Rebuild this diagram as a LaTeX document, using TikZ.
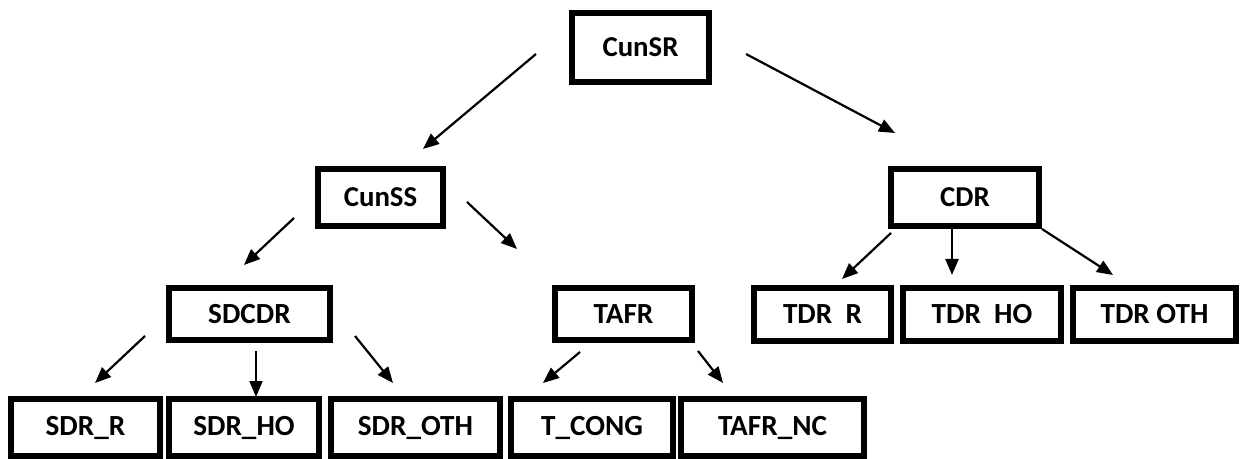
\documentclass[tikz,border=0pt]{standalone}
\usepackage{fontspec}
\setmainfont{Carlito}
\usetikzlibrary{calc,arrows.meta}

\begin{document}
\begin{tikzpicture}[x=0.5pt,y=-0.5pt]

\tikzset{boxnode/.style={draw,line width=3pt,inner sep=0pt,font=\fontsize{14.6}{16}\selectfont\bfseries},
bignode/.style={boxnode,font=\fontsize{14.4}{16}\selectfont\bfseries},
arr/.style={line width=1.1pt,-{Triangle[length=8pt,width=6.5pt]}}}

\useasboundingbox (0,0) rectangle (1240,459);

% Top level
\node[bignode,minimum width=68.5pt,minimum height=34.5pt] (cunsr) at (640.5,47.5) {CunSR};

% Second level
\node[bignode,minimum width=62.5pt,minimum height=28.5pt] (cunss) at (380.5,197.5) {CunSS};
\node[bignode,minimum width=74pt,minimum height=28.5pt] (cdr) at (965,197.5) {CDR};

% Third level
\node[boxnode,minimum width=80.5pt,minimum height=26pt] (sdcdr) at (249.5,314) {SDCDR};
\node[boxnode,minimum width=68.5pt,minimum height=26pt] (tafr) at (623.5,314) {TAFR};
\node[boxnode,minimum width=68.5pt,minimum height=26.5pt] (tdrr) at (822.5,314.5) {TDR\ \ R};
\node[boxnode,minimum width=79pt,minimum height=26.5pt] (tdrho) at (982,314.5) {TDR\ \ HO};
\node[boxnode,minimum width=81.5pt,minimum height=26.5pt] (tdroth) at (1154.5,314.5) {TDR OTH};

% Bottom level
\node[boxnode,minimum width=74.5pt,minimum height=28.5pt] (sdrr) at (85.5,427.5) {SDR\_R};
\node[boxnode,minimum width=75pt,minimum height=28.5pt] (sdrho) at (244,427.5) {SDR\_HO};
\node[boxnode,minimum width=84.5pt,minimum height=28.5pt] (sdroth) at (415.5,427.5) {SDR\_OTH};
\node[boxnode,minimum width=81pt,minimum height=28.5pt] (tcong) at (592,427.5) {T\_CONG};
\node[boxnode,minimum width=91.5pt,minimum height=28.5pt] (tafrnc) at (772.5,427.5) {TAFR\_NC};

% Arrows
\draw[arr] ($(cunsr)+(-104.5,6.5)$) -- ($(cunss)+(42.5,-48.5)$);
\draw[arr] ($(cunsr)+(105.5,6.5)$) -- ($(cdr)+(-70,-64.5)$);
\draw[arr] ($(cunss)+(-86.5,20.5)$) -- ($(sdcdr)+(-5.5,-49)$);
\draw[arr] ($(cunss)+(86.5,4.5)$) -- ($(tafr)+(-106.5,-65)$);
\draw[arr] ($(sdcdr)+(-104.5,22)$) -- ($(sdrr)+(9.5,-44.5)$);
\draw[arr] ($(sdcdr)+(6.5,37)$) -- ($(sdrho)+(12,-30.5)$);
\draw[arr] ($(sdcdr)+(105.5,22)$) -- ($(sdroth)+(-22.5,-44.5)$);
\draw[arr] ($(tafr)+(-43.5,38)$) -- ($(tcong)+(-49,-44.5)$);
\draw[arr] ($(tafr)+(74.5,37)$) -- ($(tafrnc)+(-49.5,-44.5)$);
\draw[arr] ($(cdr)+(-74,35.5)$) -- ($(tdrr)+(19.5,-35.5)$);
\draw[arr] ($(cdr)+(-13,31.5)$) -- ($(tdrho)+(-30,-39.5)$);
\draw[arr] ($(cdr)+(77,31.5)$) -- ($(tdroth)+(-41.5,-39.5)$);

\end{tikzpicture}
\end{document}
